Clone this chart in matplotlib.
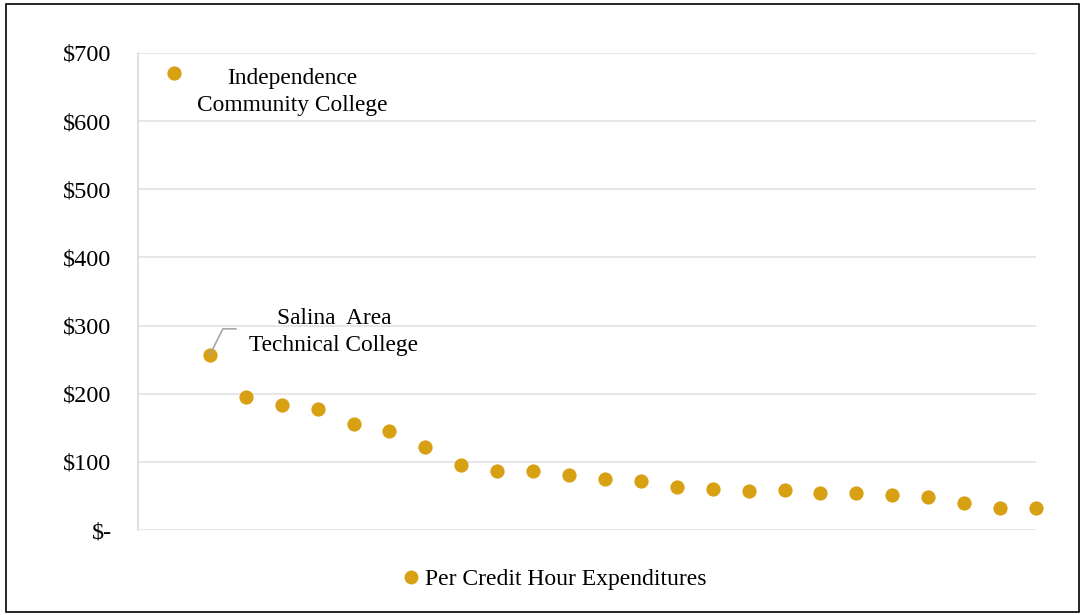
import matplotlib
matplotlib.use("Agg")
import matplotlib.pyplot as plt
from matplotlib.lines import Line2D
from matplotlib.patches import Rectangle

plt.rcParams['font.family'] = ['Liberation Serif', 'DejaVu Serif']

ranks = list(range(1, 26))
expenditures = [671, 257, 195, 184, 178, 155, 146, 122, 96, 87, 87, 81, 75, 72,
                63, 60, 57, 58, 55, 55, 52, 49, 40, 32, 32]
yticks = [0, 100, 200, 300, 400, 500, 600, 700]
ytick_labels = ['$-', '$100', '$200', '$300', '$400', '$500', '$600', '$700']
series_label = 'Per Credit Hour Expenditures'
annot_1 = 'Independence\nCommunity College'
annot_2 = 'Salina  Area\nTechnical College'

color = '#D8A013'
W, H = 1081, 615
fig = plt.figure(figsize=(W / 100, H / 100), dpi=100)
ax = fig.add_axes([138 / W, (H - 530) / H, 898 / W, 477 / H])

ax.scatter(ranks, expenditures, s=105, color=color, zorder=3, linewidths=0, clip_on=False)
ax.set_xlim(0, 25)
ax.set_ylim(0, 700)
ax.set_yticks(yticks)
ax.set_yticklabels(ytick_labels, fontsize=17.5)
ax.set_xticks([])
ax.tick_params(axis='y', length=0, pad=19)
ax.grid(axis='y', color='#E3E3E3', linewidth=1.2)
ax.set_axisbelow(True)
for s in ['top', 'right', 'bottom']:
    ax.spines[s].set_visible(False)
ax.spines['left'].set_color('#D9D9D9')
ax.spines['left'].set_linewidth(1.2)

# annotations
ax.annotate(annot_1, xy=(ranks[0], expenditures[0]), xytext=(118, -19),
            textcoords='offset pixels', ha='center', va='center', fontsize=16.8,
            linespacing=1.4)
ax.annotate(annot_2, xy=(ranks[1], expenditures[1]), xytext=(124, 23),
            textcoords='offset pixels', ha='center', va='center', fontsize=16.8,
            linespacing=1.4)

fig.canvas.draw()
px, py = ax.transData.transform((ranks[1], expenditures[1]))
leader = Line2D([px, px + 13, px + 26], [py, py + 26, py + 26],
                color='#A6A6A6', linewidth=1.2, transform=None, zorder=4)
fig.add_artist(leader)

handle = Line2D([], [], marker='o', linestyle='none', color=color,
                markersize=10, markeredgewidth=0)
fig.legend([handle], [series_label], loc='center', bbox_to_anchor=(553 / W, 1 - 579 / H),
           frameon=False, fontsize=17, handletextpad=0.1, handlelength=1.0)

fig.add_artist(Rectangle((6 / W, 3 / H), 1073 / W, 608 / H, transform=fig.transFigure,
                         fill=False, edgecolor='black', linewidth=1.2))

fig.savefig('out.png', dpi=100)
